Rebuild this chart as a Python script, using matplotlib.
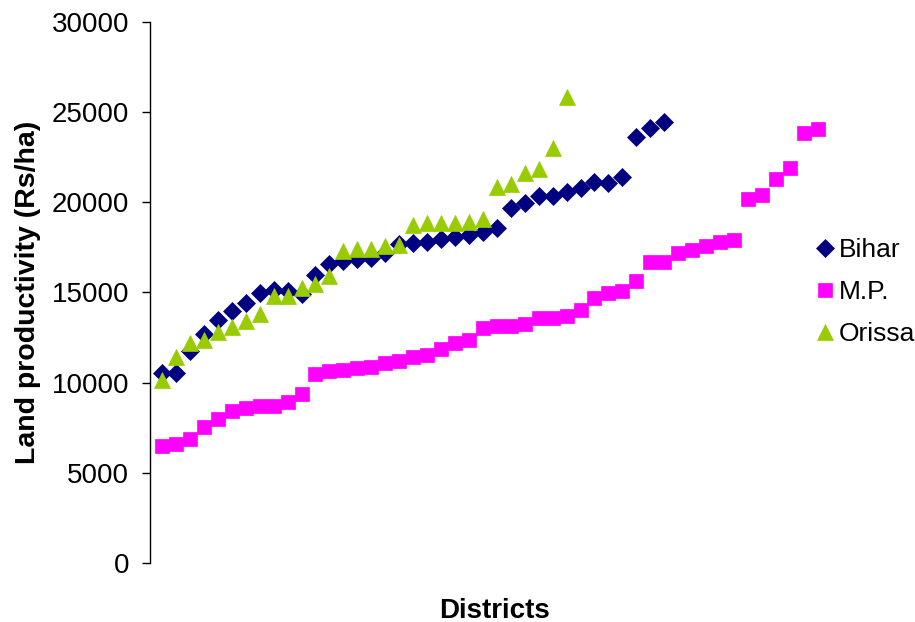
import matplotlib
matplotlib.use("Agg")
import matplotlib.pyplot as plt

plt.rcParams['font.family'] = ['Liberation Sans', 'DejaVu Sans']

# land productivity (Rs/ha) of districts, each state sorted low to high
bihar = [10550, 10530, 11750, 12700, 13500, 14000, 14400, 14950, 15150, 15100,
         14900, 15950, 16600, 16750, 16850, 16900, 17200, 17700, 17750, 17800,
         17950, 18050, 18200, 18350, 18600, 19700, 19950, 20350, 20350, 20550,
         20800, 21100, 21050, 21400, 23600, 24100, 24450]
mp = [6500, 6580, 6880, 7530, 7970, 8430, 8580, 8700, 8700, 8950,
      9370, 10460, 10650, 10700, 10800, 10890, 11110, 11200, 11440, 11530,
      11850, 12180, 12370, 13050, 13140, 13140, 13250, 13570, 13570, 13700,
      14030, 14680, 14990, 15080, 15640, 16710, 16710, 17170, 17360, 17580,
      17820, 17910, 20190, 20400, 21280, 21920, 23860, 24070]
orissa = [10150, 11450, 12200, 12350, 12800, 13100, 13400, 13800, 14800, 14800,
          15250, 15450, 15900, 17300, 17400, 17400, 17600, 17650, 18750, 18850,
          18850, 18850, 18900, 19050, 20850, 21000, 21650, 21850, 23000, 25850]

yticks = [0, 5000, 10000, 15000, 20000, 25000, 30000]

fig = plt.figure(figsize=(9.15, 6.22), dpi=100)
ax = fig.add_axes([150 / 915, 59 / 622, 690 / 915, 541 / 622])

ax.plot(range(1, len(bihar) + 1), bihar, 'D', color='#000080', ms=9,
        mec='#000080', mew=0.5, label='Bihar', clip_on=False)
ax.plot(range(1, len(mp) + 1), mp, 's', color='#FF00FF', ms=10,
        mec='#FF00FF', mew=0.5, label='M.P.', clip_on=False)
ax.plot(range(1, len(orissa) + 1), orissa, '^', color='#99CC00', ms=12,
        mec='#99CC00', mew=0.5, label='Orissa', clip_on=False)

ax.set_xlim(0.14, 49.6)
ax.set_ylim(0, 30000)
ax.set_yticks(yticks)
ax.set_xticks([])
ax.tick_params(axis='y', labelsize=20, length=6, width=1, pad=9)
for s in ['top', 'right', 'bottom']:
    ax.spines[s].set_visible(False)
ax.spines['left'].set_linewidth(1)

ax.set_ylabel('Land productivity (Rs/ha)', fontsize=20.5, fontweight='bold', labelpad=8)
ax.set_xlabel('Districts', fontsize=20, fontweight='bold', labelpad=25)

ax.legend(loc='center left', bbox_to_anchor=(814 / 915, (622 - 292) / 622),
          bbox_transform=fig.transFigure, frameon=False, fontsize=19,
          handlelength=0.8, handletextpad=0.15, borderpad=0, borderaxespad=0,
          labelspacing=0.68, numpoints=1)

fig.savefig('out.png', dpi=100)
